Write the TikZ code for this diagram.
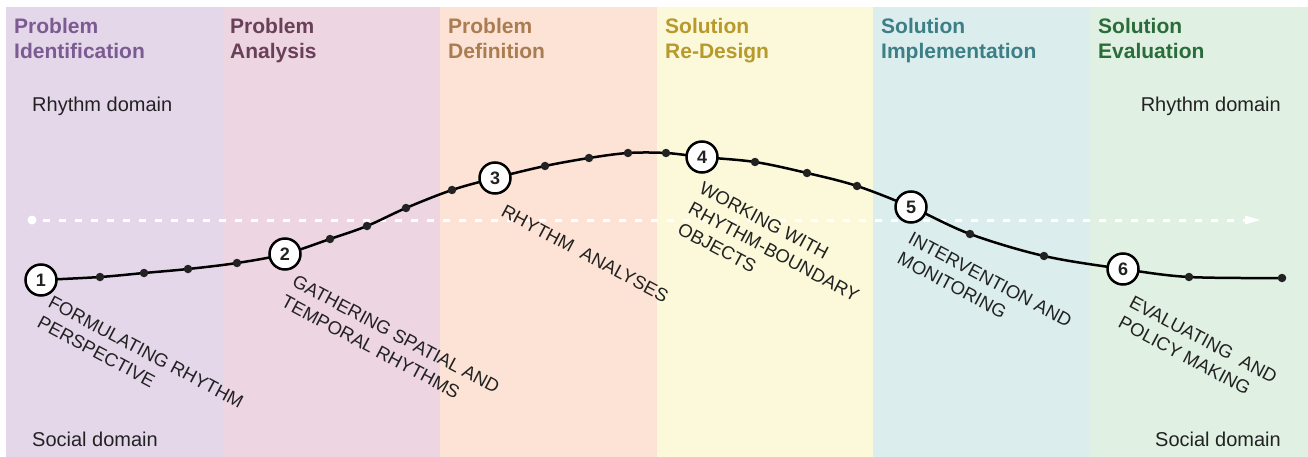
\documentclass[tikz,border=0pt]{standalone}
\usepackage{fontspec}
\setmainfont{Liberation Sans}
\usetikzlibrary{arrows.meta}
\definecolor{bgA}{HTML}{E4D7EA}
\definecolor{bgB}{HTML}{EDD6E2}
\definecolor{bgC}{HTML}{FCE3D6}
\definecolor{bgD}{HTML}{FBF9DA}
\definecolor{bgE}{HTML}{DCEDED}
\definecolor{bgF}{HTML}{E0F0E2}
\definecolor{hdA}{HTML}{7B5B92}
\definecolor{hdB}{HTML}{6A3F58}
\definecolor{hdC}{HTML}{A97C52}
\definecolor{hdD}{HTML}{B7992C}
\definecolor{hdE}{HTML}{3C7F86}
\definecolor{hdF}{HTML}{2B6C3B}
\definecolor{ink}{HTML}{222222}
\begin{document}
\begin{tikzpicture}[x=1pt,y=-1pt,
  header/.style={anchor=north west, align=left, font=\fontsize{21}{25}\selectfont\bfseries, inner sep=0pt},
  domainlbl/.style={font=\fontsize{20}{22}\selectfont, text=ink, inner sep=0pt},
  steplabel/.style={anchor=north west, align=left, rotate=-28, font=\fontsize{18.5}{23}\selectfont, text=ink, inner sep=0pt},
  stepnum/.style={circle, draw=black, line width=2.5pt, fill=white, minimum size=31pt, inner sep=0pt, font=\fontsize{18}{18}\selectfont\bfseries, text=ink},
  dotnode/.style={circle, fill=ink, minimum size=8.5pt, inner sep=0pt},
  curve/.style={line width=2.5pt, black},
  flow/.style={white, line width=3pt, dash pattern=on 7pt off 9pt}]
\useasboundingbox (0,0) rectangle (1308,457);
% panels
\fill[bgA] (6,7) rectangle (223,457);
\fill[bgB] (223,7) rectangle (440,457);
\fill[bgC] (440,7) rectangle (657,457);
\fill[bgD] (657,7) rectangle (873,457);
\fill[bgE] (873,7) rectangle (1090,457);
\fill[bgF] (1090,7) rectangle (1308,457);
% headers
\node[header, text=hdA] (h1) at (14,18) {Problem\\Identification};
\node[header, text=hdB] (h2) at (230,18) {Problem\\Analysis};
\node[header, text=hdC] (h3) at (448,18) {Problem\\Definition};
\node[header, text=hdD] (h4) at (665,18) {Solution\\Re-Design};
\node[header, text=hdE] (h5) at (881,18) {Solution\\Implementation};
\node[header, text=hdF] (h6) at (1098,18) {Solution\\Evaluation};
% domains
\node[domainlbl, anchor=base west] (rl) at (32,112) {Rhythm domain};
\node[domainlbl, anchor=base east] (rr) at (1281,112) {Rhythm domain};
\node[domainlbl, anchor=base west] (sl) at (32,446) {Social domain};
\node[domainlbl, anchor=base east] (sr) at (1281,446) {Social domain};
% flow arrow
\node[circle, fill=white, minimum size=9pt, inner sep=0pt] (fs) at (32,220) {};
\coordinate (fe) at (1245,220);
\coordinate (ft) at (1260,220);
\draw[flow] (fs.east) ++(6,0) -- (fe);
\fill[white] (fe) ++(0,-4.5) -- (ft) -- ++(-15,4.5) -- cycle;
% curve points
\coordinate (p1) at (41,280);
\coordinate (d1) at (100,277);
\coordinate (d2) at (144,273);
\coordinate (d3) at (188,269);
\coordinate (d4) at (237,263);
\coordinate (p2) at (285,254);
\coordinate (d5) at (330,239);
\coordinate (d6) at (367,226);
\coordinate (d7) at (406,208);
\coordinate (d8) at (452,190);
\coordinate (p3) at (495,178);
\coordinate (d9) at (545,166);
\coordinate (d10) at (589,158);
\coordinate (d11) at (628,153);
\coordinate (d12) at (666,153);
\coordinate (p4) at (702,157);
\coordinate (d13) at (755,162);
\coordinate (d14) at (807,173);
\coordinate (d15) at (857,186);
\coordinate (p5) at (911,207);
\coordinate (d16) at (970,234);
\coordinate (d17) at (1044,256);
\coordinate (p6) at (1123,269);
\coordinate (d18) at (1189,277);
\coordinate (d19) at (1282,278);
\draw[curve] plot[smooth, tension=0.55] coordinates {(p1) (d1) (d2) (d3) (d4) (p2) (d5) (d6) (d7) (d8) (p3) (d9) (d10) (d11) (d12) (p4) (d13) (d14) (d15) (p5) (d16) (d17) (p6) (d18) (d19)};
\foreach \d in {d1,d2,d3,d4,d5,d6,d7,d8,d9,d10,d11,d12,d13,d14,d15,d16,d17,d18,d19}
  \node[dotnode] (n\d) at (\d) {};
\node[stepnum] (s1) at (p1) {1};
\node[stepnum] (s2) at (p2) {2};
\node[stepnum] (s3) at (p3) {3};
\node[stepnum] (s4) at (p4) {4};
\node[stepnum] (s5) at (p5) {5};
\node[stepnum] (s6) at (p6) {6};
% labels
\node[steplabel] (l1) at (53,295) {FORMULATING RHYTHM\\PERSPECTIVE};
\node[steplabel] (l2) at (297,274) {GATHERING SPATIAL AND\\TEMPORAL RHYTHMS};
\node[steplabel] (l3) at (506,204) {RHYTHM\ \ ANALYSES};
\node[steplabel] (l4) at (704,181) {WORKING WITH\\RHYTHM-BOUNDARY\\OBJECTS};
\node[steplabel] (l5) at (913,231) {INTERVENTION AND\\MONITORING};
\node[steplabel] (l6) at (1134,295) {EVALUATING\ \ AND\\POLICY MAKING};
\end{tikzpicture}
\end{document}
